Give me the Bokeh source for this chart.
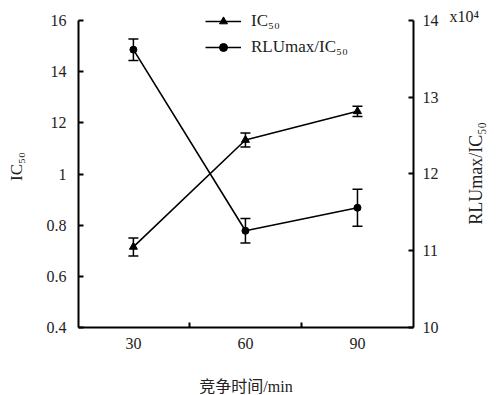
import math
from bokeh.plotting import figure
from bokeh.models import (Range1d, LinearAxis, FixedTicker, Whisker, TeeHead,
                          ColumnDataSource, Legend, LegendItem, Label)
from bokeh.embed import file_html
from bokeh.resources import INLINE

# data
times = [30, 60, 90]
ic50 = [0.715, 1.133, 1.245]
ic50_err = [0.035, 0.027, 0.02]
rlu = [13.62, 11.26, 11.56]
rlu_err = [0.14, 0.16, 0.24]
left_ticks = [0.4, 0.6, 0.8, 1.0, 1.2, 1.4, 1.6]
left_labels = ["0.4", "0.6", "0.8", "1", "12", "14", "16"]
right_ticks = [10, 11, 12, 13, 14]
x_ticks_minor = [45, 75]

FONT = "Liberation Serif"
CJK = "'Liberation Serif', 'Noto Sans CJK SC'"
TXT = "#222222"

p = figure(frame_width=335, frame_height=322, output_backend="svg", toolbar_location=None,
           x_range=Range1d(15.3, 105), y_range=Range1d(0.4, 1.6588),
           min_border_left=78, min_border_right=85, min_border_top=5, min_border_bottom=68)
p.outline_line_color = None
p.grid.visible = False
p.background_fill_color = "white"
p.border_fill_color = "white"

p.extra_y_ranges = {"right": Range1d(10, 14.195)}

# bottom axis
xa = p.xaxis[0]
xa.ticker = FixedTicker(ticks=times, minor_ticks=x_ticks_minor)
xa.major_tick_in = 0
xa.major_tick_out = 0
xa.minor_tick_in = 5
xa.minor_tick_out = 0
xa.minor_tick_line_width = 2
xa.axis_line_width = 2
xa.axis_label = "竞争时间/min"
xa.axis_label_text_font = CJK
xa.axis_label_text_font_style = "normal"
xa.axis_label_text_font_size = "16px"
xa.axis_label_text_color = TXT
xa.axis_label_standoff = 26
xa.major_label_text_font = FONT
xa.major_label_text_font_size = "16px"
xa.major_label_text_color = TXT
xa.major_label_standoff = 10

# left axis
ya = p.yaxis[0]
ya.bounds = (0.4, 1.6)
ya.ticker = FixedTicker(ticks=left_ticks, minor_ticks=[])
ya.major_label_overrides = {t: l for t, l in zip(left_ticks, left_labels)}
ya.major_tick_in = 5
ya.major_tick_out = 0
ya.major_tick_line_width = 2
ya.minor_tick_in = 0
ya.minor_tick_out = 0
ya.axis_line_width = 2
ya.axis_label = "IC₅₀"
ya.axis_label_text_font = FONT
ya.axis_label_text_font_style = "normal"
ya.axis_label_text_font_size = "17px"
ya.axis_label_text_color = TXT
ya.axis_label_standoff = 18
ya.major_label_text_font = FONT
ya.major_label_text_font_size = "16px"
ya.major_label_text_color = TXT
ya.major_label_standoff = 12

# right axis (its title and the x10^4 factor are labels in the right panel)
ra = LinearAxis(y_range_name="right", ticker=FixedTicker(ticks=right_ticks, minor_ticks=[]))
ra.bounds = (10, 14)
ra.major_tick_in = 5
ra.major_tick_out = 0
ra.major_tick_line_width = 2
ra.minor_tick_in = 0
ra.minor_tick_out = 0
ra.axis_line_width = 2
ra.major_label_text_font = FONT
ra.major_label_text_font_size = "16px"
ra.major_label_text_color = TXT
ra.major_label_standoff = 9
p.add_layout(ra, "right")

p.add_layout(Label(x=475, y=173, x_units="canvas", y_units="canvas", text="RLUmax/IC₅₀",
                   angle=math.pi / 2, text_align="center", text_baseline="middle",
                   text_font=FONT, text_font_size="18px", text_color=TXT), "right")
p.add_layout(Label(x=449, y=16, x_units="canvas", y_units="canvas", text="x10⁴",
                   text_align="left", text_baseline="middle",
                   text_font=FONT, text_font_size="16px", text_color=TXT), "right")

src_ic = ColumnDataSource(dict(x=times, y=ic50,
                               lo=[v - e for v, e in zip(ic50, ic50_err)],
                               hi=[v + e for v, e in zip(ic50, ic50_err)]))
src_rl = ColumnDataSource(dict(x=times, y=rlu,
                               lo=[v - e for v, e in zip(rlu, rlu_err)],
                               hi=[v + e for v, e in zip(rlu, rlu_err)]))

l1 = p.line("x", "y", source=src_ic, line_color="black", line_width=1.6)
m1 = p.scatter("x", "y", source=src_ic, marker="triangle", size=8, color="black")
l2 = p.line("x", "y", source=src_rl, line_color="black", line_width=1.6, y_range_name="right")
m2 = p.scatter("x", "y", source=src_rl, marker="circle", size=7, color="black", y_range_name="right")

w1 = Whisker(base="x", lower="lo", upper="hi", source=src_ic, dimension="height",
             line_color="black", line_width=1.5,
             upper_head=TeeHead(size=10, line_width=1.5, line_color="black"),
             lower_head=TeeHead(size=10, line_width=1.5, line_color="black"))
w2 = Whisker(base="x", lower="lo", upper="hi", source=src_rl, dimension="height",
             line_color="black", line_width=1.5, y_range_name="right",
             upper_head=TeeHead(size=10, line_width=1.5, line_color="black"),
             lower_head=TeeHead(size=10, line_width=1.5, line_color="black"))
p.add_layout(w1)
p.add_layout(w2)

legend = Legend(items=[LegendItem(label="IC₅₀", renderers=[l1, m1]),
                       LegendItem(label="RLUmax/IC₅₀", renderers=[l2, m2])],
                location=(127, 270), padding=0, margin=0, spacing=6,
                glyph_width=36, glyph_height=20, label_standoff=10,
                border_line_color=None, background_fill_alpha=0,
                label_text_font=FONT, label_text_font_size="17px", label_text_color=TXT)
p.add_layout(legend)

open("out.html", "w").write(file_html(p, INLINE))
